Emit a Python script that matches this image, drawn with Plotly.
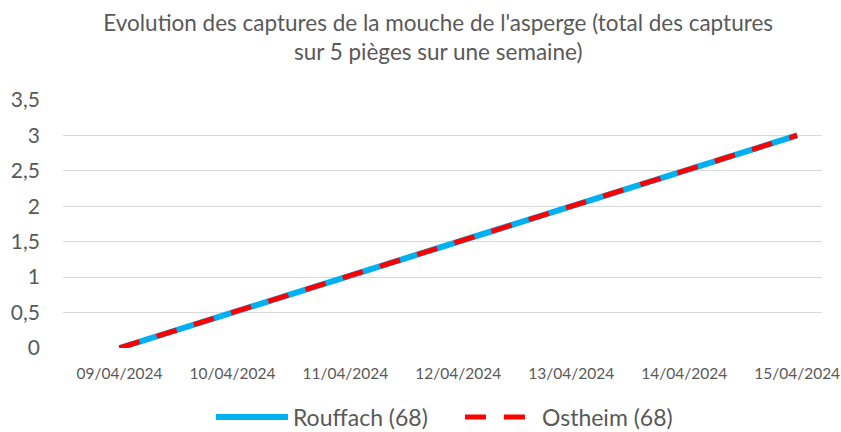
import plotly.graph_objects as go

days = ["09/04/2024", "10/04/2024", "11/04/2024", "12/04/2024",
        "13/04/2024", "14/04/2024", "15/04/2024"]
x_points = ["09/04/2024", "15/04/2024"]
rouffach = [0, 3]
ostheim = [0, 3]
y_ticks = [0, 0.5, 1, 1.5, 2, 2.5, 3, 3.5]
y_labels = ["0", "0,5", "1", "1,5", "2", "2,5", "3", "3,5"]

font = "Lato"
grey = "#595959"

fig = go.Figure()
fig.add_trace(go.Scatter(x=x_points, y=rouffach, mode="lines", name="Rouffach (68)",
                         line=dict(color="#00B0F0", width=6)))
fig.add_trace(go.Scatter(x=x_points, y=ostheim, mode="lines", name="Ostheim (68)",
                         line=dict(color="#FF0000", width=5, dash="21px,18px")))

fig.update_layout(
    width=841, height=432,
    paper_bgcolor="white", plot_bgcolor="white",
    margin=dict(l=63, r=19, t=100, b=84, autoexpand=False),
    title=dict(text="Evolution des captures de la mouche de l'asperge (total des captures<br>sur 5 pièges sur une semaine)",
               x=0.521, xanchor="center", y=0.928, yanchor="top",
               font=dict(family=font, size=22.5, color=grey)),
    font=dict(family=font, color=grey),
    showlegend=True,
    legend=dict(orientation="h", x=0.523, xanchor="center", y=-0.278, yanchor="middle",
                entrywidth=162, itemwidth=72,
                font=dict(family=font, size=23, color=grey)),
    xaxis=dict(type="category", categoryorder="array", categoryarray=days,
               tickmode="array", tickvals=days, ticktext=days, automargin=False,
               range=[-0.5, 6.22], showgrid=False, zeroline=False, showline=False,
               ticks="", ticklabelstandoff=14,
               tickfont=dict(family=font, size=15.5, color=grey)),
    yaxis=dict(range=[0, 3.5], tickmode="array", tickvals=y_ticks, ticktext=y_labels,
               showgrid=True, gridcolor="#D9D9D9", gridwidth=1.3, zeroline=False,
               ticks="", ticklabelstandoff=22, automargin=False,
               tickfont=dict(family=font, size=21, color=grey)),
)

fig.write_html("out.html", config={"displayModeBar": False},
               post_script="document.body.style.margin='0';document.body.style.overflow='hidden';")
